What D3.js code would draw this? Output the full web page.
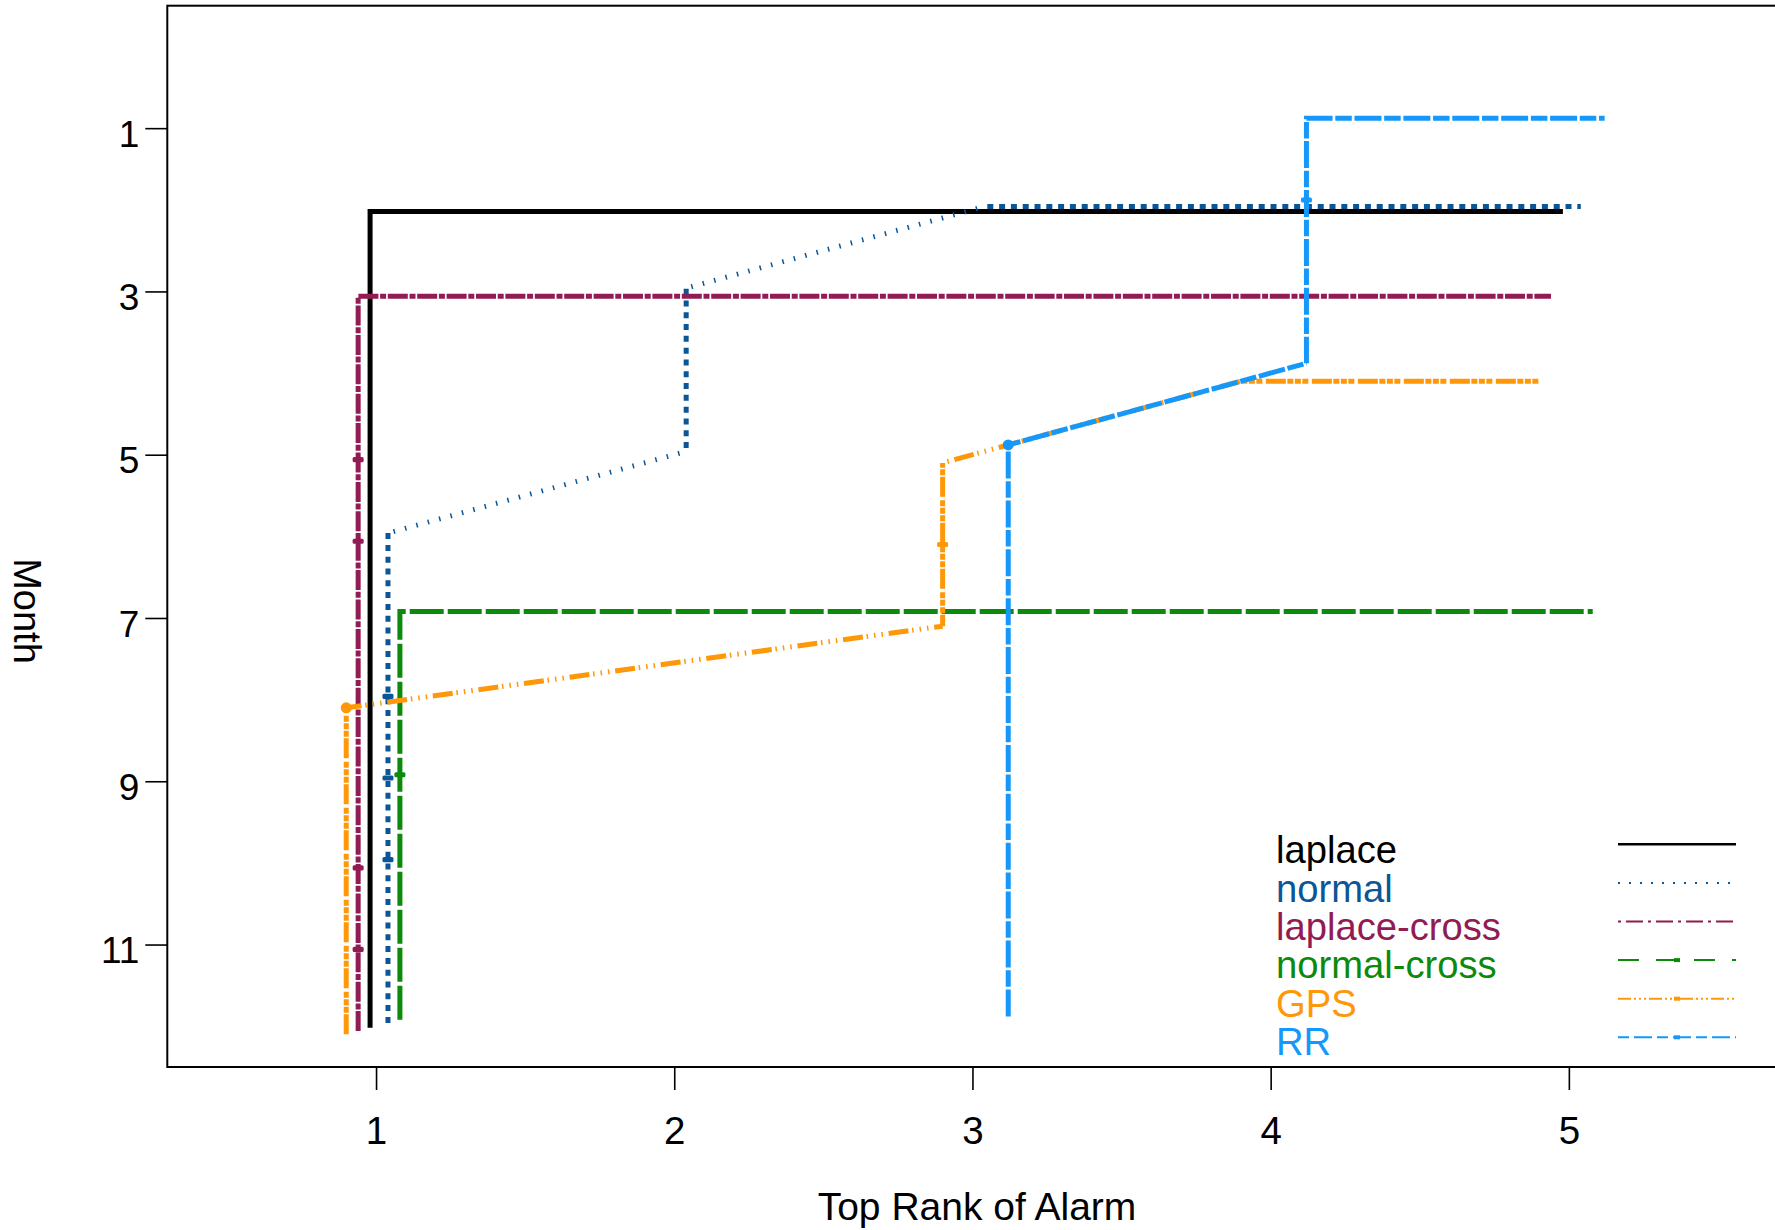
<!DOCTYPE html>
<html>
<head>
<meta charset="utf-8">
<script src="https://cdn.jsdelivr.net/npm/d3@7"></script>
<style>
  html, body { margin: 0; padding: 0; background: #ffffff; }
  svg { display: block; font-family: "Liberation Sans", Arial, Helvetica, sans-serif; }
</style>
</head>
<body>
<svg id="chart" width="1775" height="1230"></svg>
<script>
// Month 1..12 and the rank of the top alarm reached in that month (null = none within the top 5)
const months           = [1, 2, 3, 4, 5, 6, 7, 8, 9, 10, 11, 12];
const laplaceRank      = [null, 1, 1, 1, 1, 1, 1, 1, 1, 1, 1, 1];
const normalRank       = [null, 3, 2, 2, 2, 1, 1, 1, 1, 1, 1, 1];
const laplaceCrossRank = [null, null, 1, 1, 1, 1, 1, 1, 1, 1, 1, 1];
const normalCrossRank  = [null, null, null, null, null, null, 1, 1, 1, 1, 1, 1];
const gpsRank          = [null, null, null, 4, 3, 3, 3, 1, 1, 1, 1, 1];
const rrRank           = [4, 4, 4, 4, 3, 3, 3, 3, 3, 3, 3, 3];

const seriesNames = ["laplace", "normal", "laplace-cross", "normal-cross", "GPS", "RR"];
// small per-series shift so overlapping lines stay visible (rank + j, month - j)
const jitter = [-0.02, 0.04, -0.06, 0.08, -0.10, 0.12];
const maxRank = 5;

// months that carry a "+" marker and months that carry a round point
const plusMarks = [[], [8, 9, 10], [5, 6, 10, 11], [9], [6], [2]];
const dotMarks  = [[], [], [], [], [8], [5]];

const xTicks = [1, 2, 3, 4, 5];
const yTicks = [1, 3, 5, 7, 9, 11];

const rankTable = [laplaceRank, normalRank, laplaceCrossRank, normalCrossRank, gpsRank, rrRank];

// ---- styling ----
const colors = ["#000000", "#0b5697", "#931b53", "#0b8a0b", "#ff9808", "#1598fa"];
const lineWidth = 5;
const dashStraight = [null, "6 5.8", "20 1.7 6 1.7", "34 4", "20 1.5 6 1.5 6 1.5 6 3.5", "27 2.7 16.5 2.7"];
const dashSloped   = [null, "1.5 10.3", "20 3.95 1.5 3.95", "34 4", "20 3.75 1.5 6 1.5 6 1.5 5.75", "27 2.7 16.5 2.7"];
const keyDash      = [null, "2 9", "3 5 17 5", "21 17", "13 3 2 3 2 3 2 3", "11 5 18 5"];
const keyWidth     = [2.6, 2, 2, 2, 2, 2];
const keyPlus      = [false, false, false, true, true, true];

const svg = d3.select("#chart");
const plot = { left: 167.3, right: 1777.6, top: 5.7, bottom: 1067 };

const x = d3.scaleLinear().domain([0.3, 5.7]).range([plot.left, plot.right]);
const y = d3.scaleLinear().domain([-0.5, 12.5]).range([plot.top, plot.bottom]);

// ---- axes ----
const xAxis = d3.axisBottom(x).tickValues(xTicks).tickFormat(d3.format("d"))
  .tickSize(23).tickSizeOuter(0).tickPadding(27);
const gx = svg.append("g").attr("transform", `translate(0,${plot.bottom})`).call(xAxis);
gx.select(".domain").remove();
gx.selectAll(".tick line").attr("stroke", "#000").attr("stroke-width", 1.6);
gx.selectAll(".tick text").attr("fill", "#000").attr("font-size", 38.5)
  .attr("font-family", "Liberation Sans, Arial, sans-serif");

const yAxis = d3.axisLeft(y).tickValues(yTicks).tickFormat(d3.format("d"))
  .tickSize(22).tickSizeOuter(0).tickPadding(6);
const gy = svg.append("g").attr("transform", `translate(${plot.left},0)`).call(yAxis);
gy.select(".domain").remove();
gy.selectAll(".tick line").attr("stroke", "#000").attr("stroke-width", 1.6);
gy.selectAll(".tick text").attr("fill", "#000").attr("font-size", 37).attr("dy", "0.49em")
  .attr("font-family", "Liberation Sans, Arial, sans-serif");

// plot frame
svg.append("rect")
  .attr("x", plot.left).attr("y", plot.top)
  .attr("width", plot.right - plot.left).attr("height", plot.bottom - plot.top)
  .attr("fill", "none").attr("stroke", "#000").attr("stroke-width", 2);

// axis titles
svg.append("text")
  .attr("x", 977).attr("y", 1220)
  .attr("text-anchor", "middle").attr("font-size", 39).attr("fill", "#000")
  .text("Top Rank of Alarm");

svg.append("text")
  .attr("transform", `translate(14,611) rotate(90)`)
  .attr("text-anchor", "middle").attr("font-size", 38).attr("fill", "#000")
  .text("Month");

// ---- series ----
const lineGen = d3.line().x(d => x(d[0])).y(d => y(d[1]));

function vertices(ranks, j) {
  const pts = [];
  let last = null;
  for (let k = months.length - 1; k >= 0; k--) {
    const r = ranks[k];
    if (r == null) continue;
    pts.push([r + j, months[k] - j]);
    last = months[k];
  }
  if (last != null) pts.push([maxRank + j, last - j]);
  return pts;
}

// split a polyline into runs of axis-parallel segments and sloped segments
function runs(pts) {
  const out = [];
  let cur = null;
  let travelled = 0;
  for (let k = 0; k < pts.length - 1; k++) {
    const a = pts[k], b = pts[k + 1];
    const sloped = a[0] !== b[0] && a[1] !== b[1];
    if (!cur || cur.sloped !== sloped) {
      cur = { sloped, pts: [a], offset: travelled };
      out.push(cur);
    }
    cur.pts.push(b);
    travelled += Math.hypot(x(b[0]) - x(a[0]), y(b[1]) - y(a[1]));
  }
  return out;
}

const gSeries = svg.append("g");
rankTable.forEach((ranks, i) => {
  const j = jitter[i];
  const pts = vertices(ranks, j);
  const g = gSeries.append("g").attr("class", "series");
  runs(pts).forEach(run => {
    const dash = run.sloped ? dashSloped[i] : dashStraight[i];
    g.append("path")
      .attr("d", lineGen(run.pts))
      .attr("fill", "none")
      .attr("stroke", colors[i])
      .attr("stroke-width", lineWidth)
      .attr("stroke-linecap", "butt")
      .attr("stroke-linejoin", "miter")
      .attr("stroke-dasharray", dash)
      .attr("stroke-dashoffset", dash ? run.offset : null);
  });

  plusMarks[i].forEach(m => {
    const r = ranks[months.indexOf(m)];
    g.append("rect")
      .attr("x", x(r + j) - 5.5).attr("y", y(m - j) - 2.6)
      .attr("width", 11).attr("height", 5.2).attr("rx", 1.5)
      .attr("fill", colors[i]);
  });
  dotMarks[i].forEach(m => {
    const r = ranks[months.indexOf(m)];
    g.append("circle")
      .attr("cx", x(r + j)).attr("cy", y(m - j)).attr("r", 5.5)
      .attr("fill", colors[i]);
  });
});

// ---- legend ----
const legend = svg.append("g");
seriesNames.forEach((name, i) => {
  const ty = 863.3 + i * 38.3;
  const ky = 844.3 + i * 38.6;
  legend.append("text")
    .attr("x", 1276).attr("y", ty)
    .attr("font-size", 38.2).attr("fill", colors[i])
    .text(name);
  legend.append("line")
    .attr("x1", 1618).attr("x2", 1736).attr("y1", ky).attr("y2", ky)
    .attr("stroke", colors[i]).attr("stroke-width", keyWidth[i])
    .attr("stroke-dasharray", keyDash[i]);
  if (keyPlus[i]) {
    legend.append("rect")
      .attr("x", 1677 - 3).attr("y", ky - 2).attr("width", 6).attr("height", 4)
      .attr("fill", colors[i]);
  }
});
</script>
</body>
</html>
